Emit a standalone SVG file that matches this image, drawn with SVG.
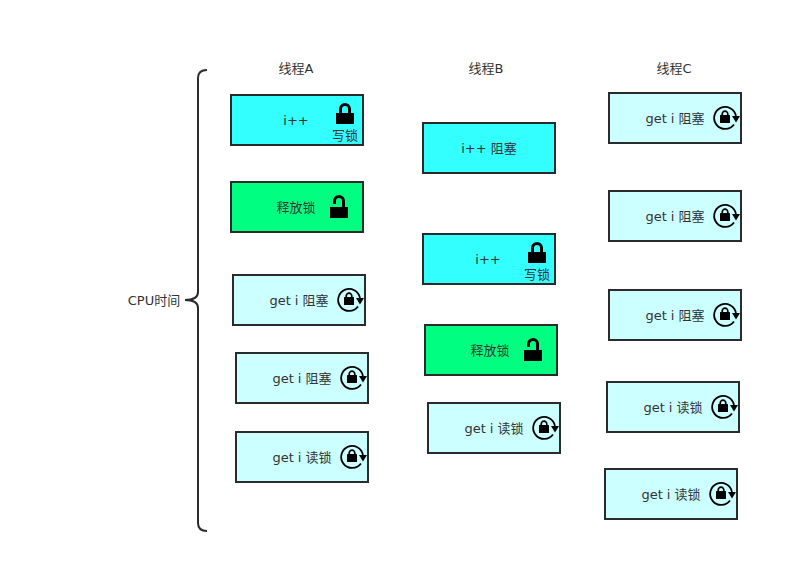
<svg xmlns="http://www.w3.org/2000/svg" width="786" height="562" viewBox="0 0 786 562">
<style>
text{font-family:"DejaVu Sans","Noto Sans CJK SC",sans-serif;font-size:13px;fill:#333;text-anchor:middle}
.b{stroke:#2b2b2b;stroke-width:2}
.w{fill:#33ffff}.g{fill:#00ff80}.l{fill:#ccffff}
</style>
<defs>
<g id="closed"><rect x="0" y="11" width="18" height="11" fill="#000"/><path d="M4.5 12V7a4.5 4.5 0 0 1 9 0V12" fill="none" stroke="#000" stroke-width="3"/></g>
<g id="open"><rect x="0" y="11" width="18" height="11" fill="#000"/><path d="M4.5 8V5a4.5 4.5 0 0 1 9 0V12" fill="none" stroke="#000" stroke-width="3"/></g>
<g id="rot"><path d="M9 6.5A11 11 0 1 1 11 -2" fill="none" stroke="#000" stroke-width="1.8"/><path d="M7 -2H15L11 4.5Z" fill="#000"/><rect x="-5" y="-3" width="10" height="8" rx=".5" fill="#000"/><path d="M-2.8 -3V-4a2.8 2.8 0 0 1 5.6 0V-3" fill="none" stroke="#000" stroke-width="1.7"/></g>
</defs>
<g id="connectors"><path d="M207 70Q198 70 198 78V292Q198 300 185 300Q198 300 198 308V523Q198 531 207 531" fill="none" stroke="#2b2b2b" stroke-width="2"/></g>
<g id="label-cpu"><text x="154" y="305">CPU时间</text></g>
<g id="header-a"><text x="296" y="73">线程A</text></g>
<g id="header-b"><text x="486" y="73">线程B</text></g>
<g id="header-c"><text x="674" y="73">线程C</text></g>
<g id="a1"><rect class="b w" x="231" y="95" width="132" height="50"/><text x="296" y="125">i++</text><use href="#closed" x="336" y="102"/><text x="345" y="140">写锁</text></g>
<g id="a2"><rect class="b g" x="231" y="182" width="132" height="50"/><text x="296" y="212">释放锁</text><use href="#open" x="330" y="196"/></g>
<g id="a3"><rect class="b l" x="233" y="275" width="132" height="50"/><text x="299" y="305">get i 阻塞</text><use href="#rot" x="349" y="300"/></g>
<g id="a4"><rect class="b l" x="236" y="353" width="132" height="50"/><text x="302" y="383">get i 阻塞</text><use href="#rot" x="352" y="378"/></g>
<g id="a5"><rect class="b l" x="236" y="432" width="132" height="50"/><text x="302" y="462">get i 读锁</text><use href="#rot" x="352" y="457"/></g>
<g id="b1"><rect class="b w" x="423" y="123" width="132" height="50"/><text x="489" y="153">i++ 阻塞</text></g>
<g id="b2"><rect class="b w" x="423" y="234" width="132" height="50"/><text x="488" y="264">i++</text><use href="#closed" x="528" y="241"/><text x="537" y="279">写锁</text></g>
<g id="b3"><rect class="b g" x="425" y="325" width="132" height="50"/><text x="490" y="355">释放锁</text><use href="#open" x="524" y="339"/></g>
<g id="b4"><rect class="b l" x="428" y="403" width="132" height="50"/><text x="494" y="433">get i 读锁</text><use href="#rot" x="544" y="428"/></g>
<g id="c1"><rect class="b l" x="609" y="93" width="132" height="50"/><text x="675" y="123">get i 阻塞</text><use href="#rot" x="725" y="118"/></g>
<g id="c2"><rect class="b l" x="609" y="191" width="132" height="50"/><text x="675" y="221">get i 阻塞</text><use href="#rot" x="725" y="216"/></g>
<g id="c3"><rect class="b l" x="609" y="290" width="132" height="50"/><text x="675" y="320">get i 阻塞</text><use href="#rot" x="725" y="315"/></g>
<g id="c4"><rect class="b l" x="607" y="382" width="132" height="50"/><text x="673" y="412">get i 读锁</text><use href="#rot" x="723" y="407"/></g>
<g id="c5"><rect class="b l" x="605" y="469" width="132" height="50"/><text x="671" y="499">get i 读锁</text><use href="#rot" x="721" y="494"/></g>
</svg>
